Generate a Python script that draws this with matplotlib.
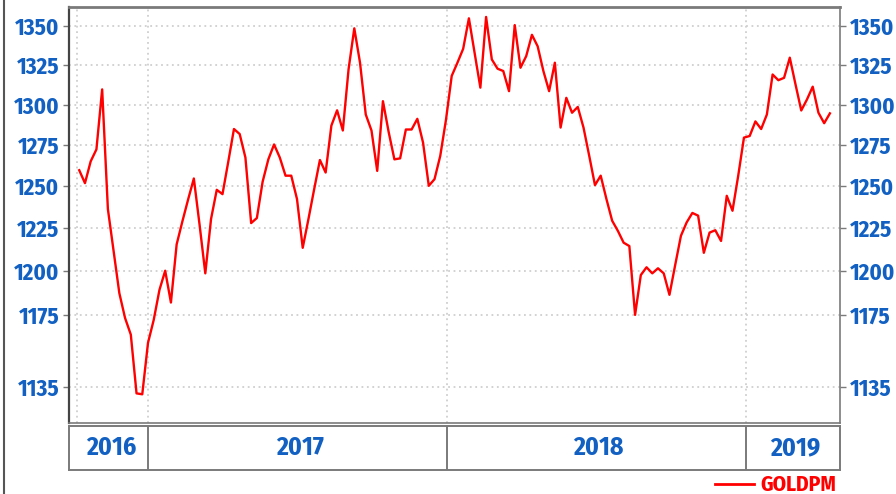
import numpy as np
import pandas as pd
import matplotlib
matplotlib.use("Agg")
import matplotlib.pyplot as plt
import matplotlib.dates as mdates
from matplotlib.lines import Line2D
from matplotlib.ticker import FixedLocator, NullLocator, FuncFormatter

# weekly gold PM fix, USD/oz
goldpm = [1259.6, 1251.8, 1265.0, 1272.3, 1309.5, 1236.3, 1211.5, 1187.3, 1173.2, 1163.9,
          1131.5, 1131.0, 1159.3, 1172.2, 1189.2, 1200.2, 1182.0, 1215.5, 1229.0, 1242.0,
          1254.6, 1227.0, 1198.7, 1230.4, 1247.8, 1245.2, 1264.6, 1284.8, 1281.7, 1267.3,
          1228.0, 1231.0, 1252.6, 1266.2, 1275.3, 1267.3, 1256.3, 1256.3, 1242.3, 1213.5,
          1230.4, 1248.2, 1265.8, 1258.2, 1286.9, 1296.4, 1283.9, 1322.2, 1348.5, 1326.4,
          1293.8, 1283.9, 1259.2, 1302.1, 1282.9, 1266.2, 1266.8, 1284.5, 1284.5, 1291.1,
          1276.4, 1250.2, 1254.2, 1268.3, 1290.5, 1318.0, 1326.4, 1335.3, 1355.0, 1332.7,
          1310.6, 1355.9, 1328.5, 1322.6, 1321.1, 1308.4, 1350.6, 1323.2, 1330.6, 1344.3,
          1336.9, 1321.1, 1308.4, 1326.4, 1285.7, 1304.2, 1294.9, 1298.5, 1285.7, 1268.3,
          1250.6, 1256.3, 1242.3, 1229.4, 1223.4, 1216.5, 1214.5, 1175.0, 1197.7, 1202.2,
          1198.7, 1201.6, 1198.7, 1186.4, 1203.5, 1220.5, 1228.4, 1234.0, 1232.4, 1210.6,
          1222.4, 1223.8, 1217.5, 1244.2, 1235.3, 1256.3, 1279.5, 1280.5, 1289.5, 1284.8,
          1293.8, 1318.9, 1315.3, 1316.8, 1329.6, 1312.6, 1296.3, 1303.2, 1311.2, 1294.9,
          1288.4, 1294.5]
dates = pd.date_range("2016-10-09", periods=len(goldpm), freq="W-SUN")

ytick_vals = [1135, 1175, 1200, 1225, 1250, 1275, 1300, 1325, 1350]
years = [2016, 2017, 2018, 2019]
series_name = "GOLDPM"

blue = "#1160c2"
red = "#ff0000"
frame = "#7a7a7a"
plt.rcParams["font.family"] = ["Fira Sans Condensed", "DejaVu Sans"]
plt.rcParams["font.weight"] = "bold"

fig = plt.figure(figsize=(8.96, 4.94), dpi=100)
W, H = 896, 494
ax = fig.add_axes([69 / W, 1 - 423 / H, 771 / W, 416 / H])

ax.plot(dates, goldpm, color=red, lw=1.7, zorder=3)

x0 = mdates.date2num(pd.Timestamp("2017-01-01"))
px_day = 299 / 365.25
ax.set_xlim(x0 - 79 / px_day, x0 + 692 / px_day)
ax.set_yscale("log")
ax.set_ylim(1115.5, 1362.4)

ax.yaxis.set_major_locator(FixedLocator(ytick_vals))
ax.yaxis.set_minor_locator(NullLocator())
ax.yaxis.set_major_formatter(FuncFormatter(lambda v, p: "%d" % v))
ax.tick_params(axis="y", which="both", left=True, right=True, labelleft=True, labelright=True,
               direction="out", length=4, width=1, color=frame, pad=3,
               labelsize=16.5, labelcolor=blue)

grid_dates = [pd.Timestamp("2016-10-06"), pd.Timestamp("2017-01-01"),
              pd.Timestamp("2018-01-01"), pd.Timestamp("2019-01-01")]
ax.xaxis.set_major_locator(FixedLocator(mdates.date2num(grid_dates)))
ax.tick_params(axis="x", bottom=False, labelbottom=False)
ax.grid(True, color="#cfcfcf", ls=(0, (1, 2)), lw=1.3)

for s in ax.spines.values():
    s.set_color(frame)
    s.set_linewidth(1.2)
ax.spines["top"].set_linewidth(2)
ax.spines["left"].set_color("#444444")
ax.spines["left"].set_linewidth(1.6)

# year band under the chart
band = fig.add_axes([69 / W, 1 - 470 / H, 771 / W, 44 / H])
band.set_xlim(ax.get_xlim())
band.set_ylim(0, 1)
band.set_xticks([])
band.set_yticks([])
for s in band.spines.values():
    s.set_color(frame)
    s.set_linewidth(1.4)
lo, hi = band.get_xlim()
for y in years:
    start = max(mdates.date2num(pd.Timestamp(f"{y}-01-01")), lo)
    end = min(mdates.date2num(pd.Timestamp(f"{y + 1}-01-01")), hi)
    if y > years[0]:
        band.axvline(start, color=frame, lw=1.4)
    band.text((start + end) / 2 + 3, 0.5, str(y), ha="center", va="center",
              color=blue, fontsize=18.5, fontweight="bold")

# legend below the band
leg = fig.legend([Line2D([], [], color=red, lw=2)], [series_name],
                 loc="center right", bbox_to_anchor=(836 / W, 1 - 485 / H),
                 frameon=False, fontsize=15.5, handlelength=1.8, handletextpad=0.3,
                 borderpad=0, borderaxespad=0)
for t in leg.get_texts():
    t.set_color(red)
    t.set_fontweight("bold")

fig.add_artist(Line2D([4 / W, 4 / W], [0, 1], transform=fig.transFigure,
                      color="#555555", lw=1.5))

fig.savefig("out.png", dpi=100)
